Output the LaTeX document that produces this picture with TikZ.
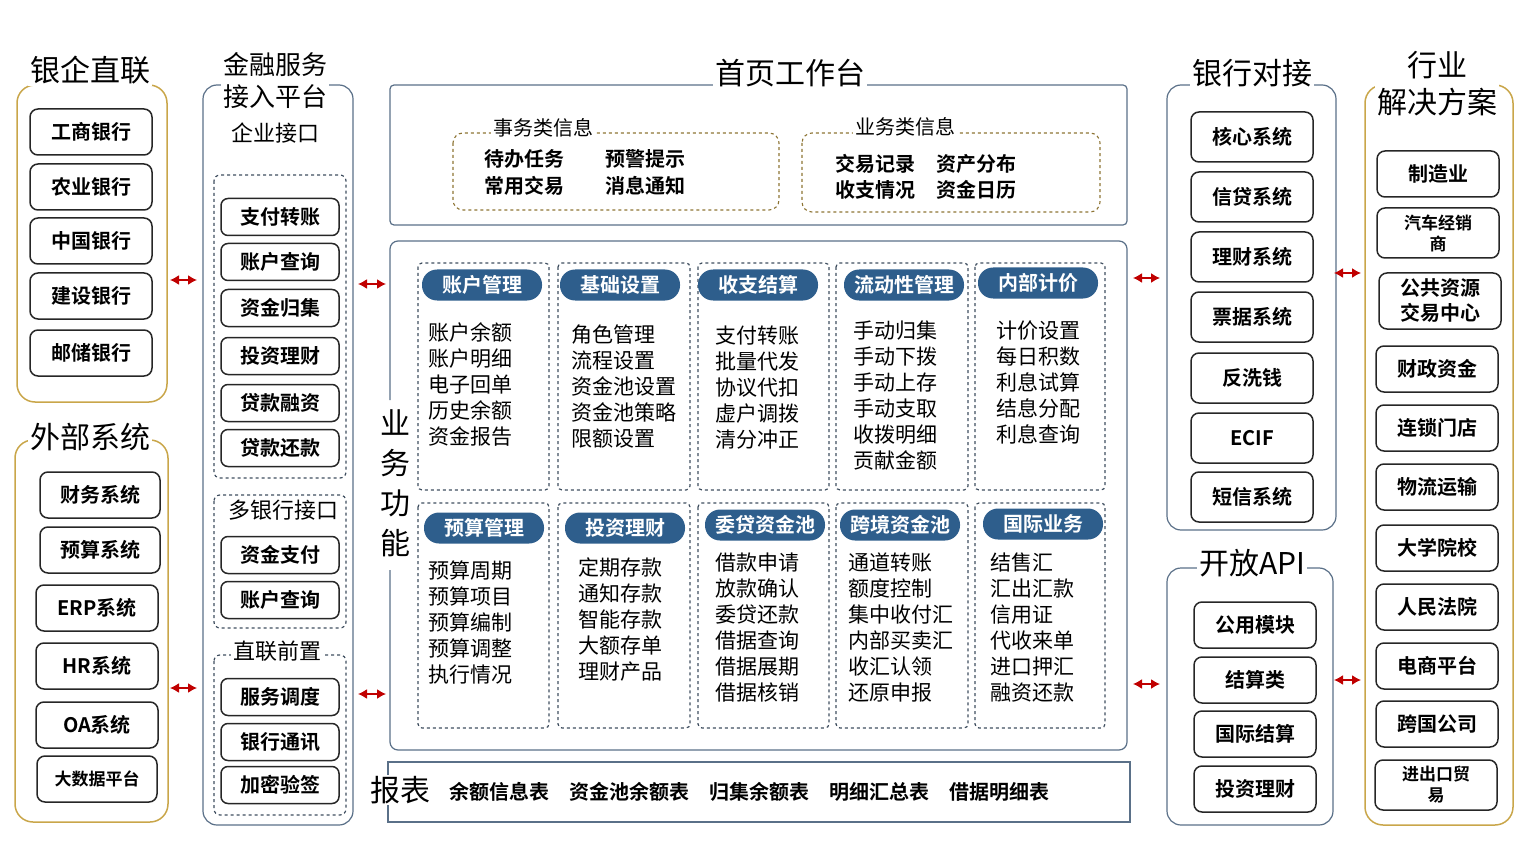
\documentclass[tikz,border=0pt]{standalone}
\usepackage{fontspec}
\setmainfont{Noto Sans CJK SC}
\newfontfamily\cjkb{Noto Sans CJK SC Bold}
\usetikzlibrary{arrows.meta}
\definecolor{gold}{HTML}{C9A64A}
\definecolor{frm}{HTML}{5A7088}
\definecolor{pill}{HTML}{2E5E8C}
\definecolor{arr}{HTML}{C00000}
\tikzset{
 goldframe/.style={draw=gold,line width=1.5pt,rounded corners=18pt},
 blframe/.style={draw=frm,line width=1.2pt,rounded corners=14pt},
 dframe/.style={draw=frm!70!black,dashed,line width=1.2pt,rounded corners=6pt},
 ttl/.style={fill=white,inner sep=2pt,font=\fontsize{30}{32}\selectfont},
 sub/.style={fill=white,inner sep=2pt,font=\fontsize{22}{24}\selectfont},
 bx/.style={draw=black!85,line width=1.5pt,rounded corners=8pt,minimum width=#1,minimum height=46pt,font=\cjkb\fontsize{20}{22}\selectfont,align=center,inner sep=1pt},
 bx/.default=122pt,
 sbx/.style={draw=black!85,line width=1.5pt,rounded corners=7pt,minimum width=118pt,minimum height=37pt,font=\cjkb\fontsize{20}{22}\selectfont},
 hdr/.style={fill=pill,text=white,rounded corners=15pt,minimum width=120pt,minimum height=31pt,font=\cjkb\fontsize{20}{22}\selectfont,inner sep=1pt},
 itm/.style={anchor=north west,align=left,font=\fontsize{21}{26}\selectfont,inner sep=0pt},
 dbl/.style={{Latex[length=9pt,width=10pt]}-{Latex[length=9pt,width=10pt]},draw=arr,line width=1.5pt},
}
\begin{document}
\begin{tikzpicture}[x=1pt,y=-1pt]
\useasboundingbox (0,0) rectangle (1528,842);
% ---- column 1
\draw[goldframe] (17,85) rectangle (167,402);
\node[ttl] (t1) at (90,70) {银企直联};
\foreach \n/\y in {工商银行/132,农业银行/187,中国银行/241,建设银行/296,邮储银行/353}
  \node[bx] at (91,\y) {\n};
\draw[goldframe] (15,440) rectangle (168,822);
\node[ttl] (t2) at (90,437) {外部系统};
\node[bx=120pt] at (100,495) {财务系统};
\node[bx=120pt] at (100,550) {预算系统};
\node[bx=122pt] at (97,608) {ERP系统};
\node[bx=122pt] at (97,666) {HR系统};
\node[bx=122pt] at (97,725) {OA系统};
\node[bx=120pt,font=\cjkb\fontsize{17}{20}\selectfont] at (97,779) {大数据平台};
\coordinate (a1l) at (170,280); \coordinate (a1r) at (197,280);
\draw[dbl] (a1l) -- (a1r);
\coordinate (a2l) at (170,688); \coordinate (a2r) at (197,688);
\draw[dbl] (a2l) -- (a2r);
% ---- column 2
\draw[blframe] (203,85) rectangle (353,825);
\node[ttl,align=center,font=\fontsize{26}{32}\selectfont] at (275,81) {金融服务\\接入平台};
\node[sub] at (275,133) {企业接口};
\draw[dframe] (214,175) rectangle (346,478);
\foreach \n/\y in {支付转账/217,账户查询/262,资金归集/308,投资理财/356,贷款融资/403,贷款还款/448}
  \node[sbx] at (280,\y) {\n};
\draw[dframe] (214,495) rectangle (346,628);
\node[sub] at (283,510) {多银行接口};
\node[sbx] at (280,555) {资金支付};
\node[sbx] at (280,600) {账户查询};
\draw[dframe] (214,655) rectangle (346,815);
\node[sub] at (277,651) {直联前置};
\node[sbx] at (280,697) {服务调度};
\node[sbx] at (280,742) {银行通讯};
\node[sbx] at (280,785) {加密验签};
\draw[dbl] (358,284) -- (386,284);
\draw[dbl] (358,694) -- (386,694);
% ---- middle top
\draw[draw=frm,line width=1.2pt,rounded corners=4pt] (390,85) rectangle (1127,225);
\node[ttl] at (790,73) {首页工作台};
\draw[draw=gold!70!black,dashed,line width=1.1pt,rounded corners=10pt] (453,133) rectangle (779,210);
\node[fill=white,inner sep=2pt,font=\fontsize{20}{22}\selectfont] at (543,128) {事务类信息};
\draw[draw=gold!70!black,dashed,line width=1.1pt,rounded corners=10pt] (802,133) rectangle (1100,212);
\node[fill=white,inner sep=2pt,font=\fontsize{20}{22}\selectfont] at (905,127) {业务类信息};
\begin{scope}[every node/.style={font=\cjkb\fontsize{20}{22}\selectfont}]
\node at (524,159) {待办任务}; \node at (645,159) {预警提示};
\node at (524,186) {常用交易}; \node at (645,186) {消息通知};
\node at (875,164) {交易记录}; \node at (976,164) {资产分布};
\node at (875,190) {收支情况}; \node at (976,190) {资金日历};
\end{scope}
% ---- business functions
\draw[draw=frm,line width=1.2pt,rounded corners=8pt] (390,400) -- (390,241) -- (1127,241) -- (1127,750) -- (390,750) -- (390,570);
\node[font=\fontsize{30}{40}\selectfont,align=center,inner sep=0pt] at (395,483) {业\\务\\功\\能};
\foreach \xa/\xb in {418/549,558/690,698/829,836/968,975/1105}{
  \draw[dframe,rounded corners=4pt] (\xa,263) rectangle (\xb,490);
  \draw[dframe,rounded corners=4pt] (\xa,503) rectangle (\xb,728);
}
\node[hdr] at (482,285) {账户管理};
\node[hdr] at (620,285) {基础设置};
\node[hdr] at (758,285) {收支结算};
\node[hdr] at (904,285) {流动性管理};
\node[hdr] at (1038,283) {内部计价};
\node[hdr] at (484,528) {预算管理};
\node[hdr] at (625,528) {投资理财};
\node[hdr] at (765,525) {委贷资金池};
\node[hdr] at (900,525) {跨境资金池};
\node[hdr] at (1043,524) {国际业务};
\node[itm] at (428,322) {账户余额\\账户明细\\电子回单\\历史余额\\资金报告};
\node[itm] at (571,325) {角色管理\\流程设置\\资金池设置\\资金池策略\\限额设置};
\node[itm] at (715,326) {支付转账\\批量代发\\协议代扣\\虚户调拨\\清分冲正};
\node[itm] at (853,321) {手动归集\\手动下拨\\手动上存\\手动支取\\收拨明细\\贡献金额};
\node[itm] at (996,321) {计价设置\\每日积数\\利息试算\\结息分配\\利息查询};
\node[itm] at (428,561) {预算周期\\预算项目\\预算编制\\预算调整\\执行情况};
\node[itm] at (578,558) {定期存款\\通知存款\\智能存款\\大额存单\\理财产品};
\node[itm] at (715,553) {借款申请\\放款确认\\委贷还款\\借据查询\\借据展期\\借据核销};
\node[itm] at (848,553) {通道转账\\额度控制\\集中收付汇\\内部买卖汇\\收汇认领\\还原申报};
\node[itm] at (990,553) {结售汇\\汇出汇款\\信用证\\代收来单\\进口押汇\\融资还款};
% ---- report
\draw[draw=frm,line width=1.2pt] (388,822) -- (388,762) -- (1130,762) -- (1130,822) -- cycle;
\node[fill=white,font=\fontsize{30}{32}\selectfont,inner sep=1pt] at (400,790) {报表};
\node[anchor=west,font=\cjkb\fontsize{20}{22}\selectfont,inner sep=0pt] at (449,792) {余额信息表\hspace{20pt}资金池余额表\hspace{20pt}归集余额表\hspace{20pt}明细汇总表\hspace{20pt}借据明细表};
% ---- right column 1
\draw[dbl] (1133,278) -- (1160,278);
\draw[dbl] (1133,684) -- (1160,684);
\draw[blframe] (1167,85) rectangle (1336,530);
\node[ttl] at (1252,73) {银行对接};
\foreach \n/\y in {核心系统/137,信贷系统/197,理财系统/257,票据系统/317,反洗钱/378,ECIF/438,短信系统/497}
  \node[bx,minimum height=50pt] at (1252,\y) {\n};
\draw[blframe] (1167,568) rectangle (1333,825);
\node[ttl] at (1252,563) {开放API};
\foreach \n/\y in {公用模块/625,结算类/680,国际结算/734,投资理财/789}
  \node[bx] at (1255,\y) {\n};
% ---- right column 2
\draw[dbl] (1334,273) -- (1361,273);
\draw[dbl] (1334,680) -- (1361,680);
\draw[goldframe] (1365,85) rectangle (1513,825);
\node[ttl,align=center,font=\fontsize{30}{37}\selectfont] at (1437,84) {行业\\解决方案};
\node[bx] at (1438,174) {制造业};
\node[bx,font=\cjkb\fontsize{17}{21}\selectfont,minimum height=50pt] at (1438,233) {汽车经销\\商};
\node[bx,minimum height=56pt,font=\cjkb\fontsize{20}{25}\selectfont] at (1440,301) {公共资源\\交易中心};
\foreach \n/\y in {财政资金/369,连锁门店/428,物流运输/487,大学院校/548,人民法院/607,电商平台/666,跨国公司/724}
  \node[bx] at (1437,\y) {\n};
\node[bx,font=\cjkb\fontsize{17}{21}\selectfont,minimum height=50pt] at (1436,785) {进出口贸\\易};
\end{tikzpicture}
\end{document}
